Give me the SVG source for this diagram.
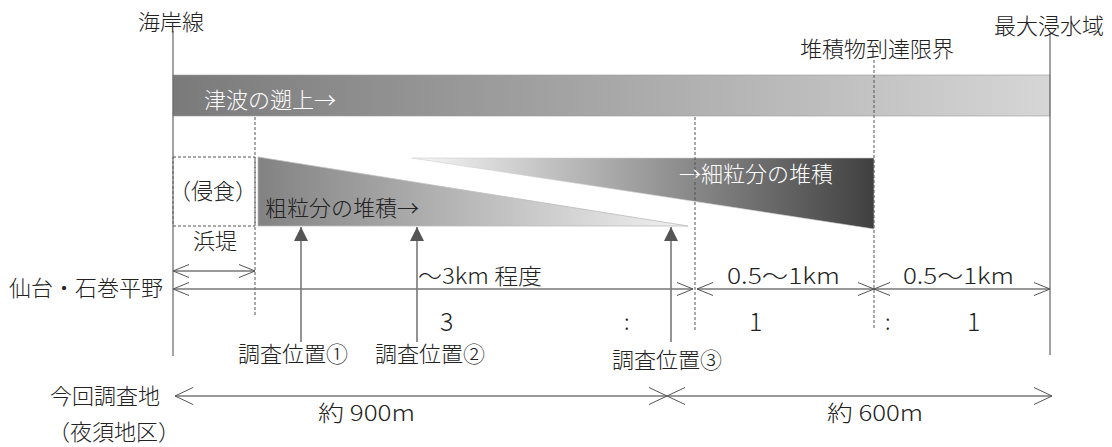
<svg xmlns="http://www.w3.org/2000/svg" width="1112" height="447" viewBox="0 0 1112 447">
<style>
.t{font-family:"Noto Sans CJK JP","Noto Sans",sans-serif;font-size:22px;font-weight:300;fill:#222}
.w{fill:#fff}
.n{font-size:25px}
.ax{stroke:#666;stroke-width:1.2;fill:none}
.dash{stroke:#555;stroke-width:1;stroke-dasharray:3,2;fill:none}
.dim{stroke:#777;stroke-width:1.3;fill:none}
.up{stroke:#888;stroke-width:1.8;fill:none}
</style>
<defs>
<linearGradient id="gTs" x1="0" y1="0" x2="1" y2="0">
<stop offset="0" stop-color="#7a7a7a"/><stop offset="1" stop-color="#d6d6d6"/>
</linearGradient>
<linearGradient id="gCo" x1="0" y1="0" x2="1" y2="0">
<stop offset="0" stop-color="#828282"/><stop offset="1" stop-color="#f2f2f2"/>
</linearGradient>
<linearGradient id="gFi" x1="0" y1="0" x2="1" y2="0">
<stop offset="0" stop-color="#f8f8f8"/><stop offset="1" stop-color="#404040"/>
</linearGradient>
<marker id="vS" markerUnits="userSpaceOnUse" viewBox="0 0 16 14" refX="16" refY="7" markerWidth="16" markerHeight="14" orient="auto-start-reverse">
<path d="M0,0.5 L16,7 L0,13.5" fill="none" stroke="#555" stroke-width="1"/>
</marker>
<marker id="vL" markerUnits="userSpaceOnUse" viewBox="0 0 18 18" refX="18" refY="9" markerWidth="18" markerHeight="18" orient="auto-start-reverse">
<path d="M0,0.5 L18,9 L0,17.5" fill="none" stroke="#555" stroke-width="1"/>
</marker>
<marker id="fa" markerUnits="userSpaceOnUse" viewBox="0 0 14 14" refX="14" refY="7" markerWidth="14" markerHeight="14" orient="auto">
<path d="M0,0 L14,7 L0,14 Z" fill="#555"/>
</marker>
</defs>

<g id="tsunami">
<rect x="173" y="75" width="877" height="41" fill="url(#gTs)" stroke="#9a9a9a" stroke-width="0.6"/>
<text class="t w" x="204" y="108">津波の遡上→</text>
</g>

<g id="erosion">
<rect x="173" y="157" width="82" height="69" class="dash"/>
<text class="t" x="213" y="199" text-anchor="middle">（侵食）</text>
<text class="t" x="215" y="249" text-anchor="middle">浜堤</text>
</g>

<g id="coarse">
<polygon points="258,157 258,226 688,226" fill="url(#gCo)" stroke="#bbb" stroke-width="0.8"/>
<text class="t" x="265" y="216">粗粒分の堆積→</text>
</g>

<g id="fine">
<polygon points="412,158 874,158 874,229" fill="url(#gFi)" stroke="#ccc" stroke-width="0.6"/>
<text class="t w" x="679" y="182">→細粒分の堆積</text>
</g>

<g id="frame">
<line x1="173" y1="31" x2="173" y2="356" class="ax"/>
<line x1="1050" y1="33" x2="1050" y2="355" class="ax"/>
<line x1="255" y1="117" x2="255" y2="317" class="dash"/>
<line x1="695" y1="117" x2="695" y2="330" class="dash"/>
<line x1="874" y1="60" x2="874" y2="330" class="dash"/>
</g>

<g id="labels">
<text class="t" x="138" y="30">海岸線</text>
<text class="t" x="994" y="34">最大浸水域</text>
<text class="t" x="800" y="57">堆積物到達限界</text>
<text class="t" x="9" y="296">仙台・石巻平野</text>
<text class="t" x="418" y="284" textLength="124" lengthAdjust="spacingAndGlyphs">〜3km 程度</text>
<text class="t" x="727" y="284" textLength="113" lengthAdjust="spacingAndGlyphs">0.5〜1km</text>
<text class="t" x="903" y="284" textLength="111" lengthAdjust="spacingAndGlyphs">0.5〜1km</text>
<text class="t n" x="440" y="331">3</text>
<text class="t" x="624" y="330">:</text>
<text class="t n" x="749" y="331">1</text>
<text class="t" x="885" y="330">:</text>
<text class="t n" x="967" y="331">1</text>
<text class="t" x="50" y="404">今回調査地</text>
<text class="t" x="114" y="440" text-anchor="middle">（夜須地区）</text>
<text class="t" x="318" y="421" textLength="97" lengthAdjust="spacingAndGlyphs">約 900m</text>
<text class="t" x="827" y="421" textLength="96" lengthAdjust="spacingAndGlyphs">約 600m</text>
</g>

<g id="site1"><text class="t" x="238" y="362">調査位置①</text></g>
<g id="site2"><text class="t" x="375" y="362">調査位置②</text></g>
<g id="site3"><text class="t" x="612" y="368">調査位置③</text></g>

<g id="connectors">
<line x1="301" y1="342" x2="301" y2="227" class="up" marker-end="url(#fa)"/>
<line x1="417" y1="342" x2="417" y2="227" class="up" marker-end="url(#fa)"/>
<line x1="671" y1="342" x2="671" y2="227" class="up" marker-end="url(#fa)"/>
<line x1="173" y1="271" x2="255" y2="271" class="dim" marker-start="url(#vS)" marker-end="url(#vS)"/>
<line x1="173" y1="289" x2="693" y2="289" class="dim" marker-start="url(#vS)" marker-end="url(#vS)"/>
<line x1="697" y1="289" x2="874" y2="289" class="dim" marker-start="url(#vS)" marker-end="url(#vS)"/>
<line x1="874" y1="289" x2="1050" y2="289" class="dim" marker-start="url(#vS)" marker-end="url(#vS)"/>
<line x1="175" y1="396" x2="667" y2="396" class="dim" marker-start="url(#vL)" marker-end="url(#vL)"/>
<line x1="667" y1="396" x2="1052" y2="396" class="dim" marker-start="url(#vL)" marker-end="url(#vL)"/>
</g>
</svg>
